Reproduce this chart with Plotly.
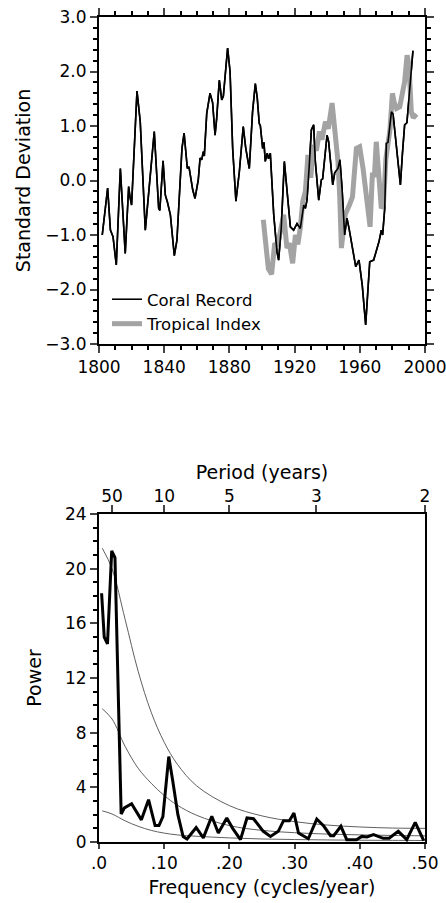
import plotly.graph_objects as go

# ---------------- data: top panel ----------------
coral_year = [1802, 1805.3, 1807, 1808.6, 1810.6, 1813.1, 1816.1, 1818.2, 1819, 1820, 1823.3, 1825.3,
              1828.4, 1830.5, 1833.9, 1836.6, 1837.3, 1839.3, 1840.7, 1842, 1843.8, 1846.2, 1847.8,
              1850.9, 1852.2, 1854.2, 1855.2, 1857.5, 1858.9, 1860.9, 1862, 1863, 1864, 1864.6, 1866.1,
              1868.1, 1869.7, 1871.2, 1872.2, 1873.8, 1875.3, 1876.3, 1878.9, 1880.4, 1882, 1884,
              1886.1, 1888.5, 1890, 1892.2, 1894.2, 1895.9, 1897.1, 1898.3, 1899, 1900.4, 1901.2,
              1902, 1903.2, 1904, 1905.1, 1907.2, 1909.2, 1910.2, 1911.8, 1913.7, 1915.3, 1917.4,
              1919.4, 1921.5, 1923.5, 1925.6, 1926.6, 1927.6, 1929, 1930.3, 1931.7, 1932.7, 1934.8,
              1936.4, 1937.2, 1939.9, 1940.9, 1943.4, 1944.6, 1946.6, 1947.8, 1949.1, 1950.7, 1952.1,
              1953.4, 1955.4, 1957.5, 1959.5, 1961.5, 1963.6, 1965, 1966.1, 1968.5, 1970.1, 1971.8,
              1973.2, 1974, 1975.3, 1976.3, 1977.3, 1979.4, 1980.4, 1982, 1984.9, 1986.1, 1987.5,
              1988.9, 1990.2, 1992.6]
coral_value = [-1.0, -0.14, -0.91, -1.03, -1.55, 0.22, -1.34, -0.11, -0.3, -0.45, 1.64, 1.08,
               -0.91, -0.27, 0.90, -0.51, -0.55, 0.36, -0.27, -0.4, -0.63, -1.38, -1.1,
               0.59, 0.87, 0.22, 0.25, -0.17, -0.33, 0.01, 0.41, 0.38, 0.53, 0.45, 1.23,
               1.60, 1.43, 0.83, 1.14, 1.84, 1.48, 1.55, 2.43, 2.0, 0.59, -0.38,
               0.16, 0.99, 0.6, 0.22, 1.26, 1.78, 1.51, 1.05, 1.0, 0.59, 0.7,
               0.35, 0.50, 0.40, 0.50, -0.63, -1.31, -1.46, -0.88, 0.35, -0.14, -0.85,
               -0.91, -0.79, -0.88, -0.45, -0.51, -0.36, 0.28, 0.93, 1.02, 0.35, -0.36,
               0.01, 0.03, 0.83, 0.71, -0.08, 0.14, 0.22, 0.38, -0.14, -1.0, -0.69,
               -0.88, -1.24, -1.58, -1.46, -1.92, -2.65, -2.10, -1.49, -1.46, -1.31, -1.12,
               -0.91, -1.0, -0.51, 0.68, 0.70, 1.26, 1.22, 0.71, -0.08, 0.47, 1.02,
               1.06, 1.51, 2.38]

trop_year = [1900.8, 1902.5, 1903.9, 1905.9, 1907.8, 1909.5, 1911.3, 1913.3, 1915.3, 1916.8, 1918.8,
             1920.5, 1922, 1923.5, 1925, 1926.6, 1928.2, 1929.9, 1931.7, 1933.4, 1935.2, 1936.8,
             1938.9, 1940.7, 1943, 1944.6, 1946.6, 1947.7, 1948.7, 1950, 1951.1, 1953.6, 1955.5,
             1957.9, 1959.9, 1962, 1964, 1965.5, 1966.3, 1967.7, 1969, 1970.1, 1971.5, 1973.2,
             1974.5, 1976, 1978.5, 1980, 1981, 1982.5, 1984.5, 1986, 1987.5, 1989, 1990.2, 1991.6,
             1992.8, 1994.8]
trop_value = [-0.72, -1.24, -1.62, -1.72, -1.15, -1.2, -0.95, -0.63, -1.24, -1.15, -1.52,
              -1.0, -1.17, -0.87, -0.39, -0.2, 0.47, 0.05, 0.65, 0.55, 0.9, 0.75,
              1.08, 0.95, 1.42, 1.0, 0.35, -0.3, -1.24, -0.9, -0.62, -0.45, -0.3,
              0.59, 0.62, 0.22, -0.3, -0.8, -0.85, 0.10, 0.1, 0.71, 0.0, -0.51,
              -0.45, 0.4, 0.93, 1.60, 1.45, 1.32, 1.35, 1.6, 1.81, 2.30, 2.1, 1.26,
              1.15, 1.22]

year_ticks = [1800, 1840, 1880, 1920, 1960, 2000]
sd_ticks = [-3, -2, -1, 0, 1, 2, 3]

# ---------------- data: bottom panel ----------------
freq = [0.004, 0.008, 0.013, 0.0195, 0.0245, 0.034, 0.039, 0.050, 0.065, 0.076, 0.086, 0.092,
        0.098, 0.107, 0.113, 0.121, 0.129, 0.135, 0.149, 0.160, 0.173, 0.183, 0.196, 0.205,
        0.217, 0.227, 0.237, 0.252, 0.263, 0.275, 0.283, 0.292, 0.299, 0.306, 0.321, 0.334,
        0.345, 0.355, 0.360, 0.371, 0.380, 0.395, 0.403, 0.411, 0.421, 0.436, 0.445, 0.459,
        0.472, 0.485, 0.498]
power = [18.2, 15.0, 14.5, 21.3, 20.8, 2.05, 2.5, 2.8, 1.62, 3.1, 1.2, 1.2,
         1.85, 6.25, 4.5, 2.0, 0.4, 0.22, 1.06, 0.3, 1.88, 0.66, 1.76, 1.0,
         0.17, 1.76, 1.7, 0.78, 0.41, 0.78, 1.56, 1.56, 2.12, 0.66, 0.24, 1.68,
         1.15, 0.46, 0.46, 1.15, 0.17, 0.17, 0.41, 0.37, 0.54, 0.27, 0.27, 0.78,
         0.17, 1.44, 0.1]

noise_freq = [0.005, 0.02, 0.04, 0.06, 0.08, 0.10, 0.12, 0.15, 0.20, 0.25, 0.30, 0.35, 0.40, 0.45, 0.50]
noise_upper = [21.5, 20.0, 16.3, 12.5, 9.5, 7.3, 5.7, 4.1, 2.66, 1.91, 1.49, 1.24, 1.10, 1.02, 1.0]
noise_mid = [9.75, 9.0, 7.0, 5.4, 4.3, 3.4, 2.7, 1.95, 1.2, 0.85, 0.68, 0.58, 0.52, 0.48, 0.45]
noise_lower = [2.28, 2.05, 1.55, 1.15, 0.85, 0.65, 0.52, 0.42, 0.30, 0.22, 0.18, 0.15, 0.13, 0.12, 0.11]

freq_ticks = [0.0, 0.1, 0.2, 0.3, 0.4, 0.5]
freq_labels = [".0", ".10", ".20", ".30", ".40", ".50"]
period_labels = ["50", "10", "5", "3", "2"]
period_values = [50, 10, 5, 3, 2]
power_ticks = [0, 4, 8, 12, 16, 20, 24]

FONT = "DejaVu Sans, Liberation Sans, Arial, sans-serif"
W, H = 446, 903
xl, xr = 99 / W, 425 / W

fig = go.Figure()

fig.add_trace(go.Scatter(x=coral_year, y=coral_value, mode="lines", name="Coral Record",
                         line=dict(color="black", width=1.6), xaxis="x", yaxis="y"))
fig.add_trace(go.Scatter(x=trop_year, y=trop_value, mode="lines", name="Tropical Index",
                         line=dict(color="#a3a3a3", width=5), xaxis="x", yaxis="y"))
fig.add_trace(go.Scatter(x=coral_year, y=coral_value, mode="lines", showlegend=False,
                         line=dict(color="black", width=1.6), xaxis="x", yaxis="y"))

for curve in (noise_upper, noise_mid, noise_lower):
    fig.add_trace(go.Scatter(x=noise_freq, y=curve, mode="lines", showlegend=False,
                             line=dict(color="#606060", width=1, shape="spline", smoothing=1.0),
                             xaxis="x2", yaxis="y2"))
fig.add_trace(go.Scatter(x=freq, y=power, mode="lines", showlegend=False,
                         line=dict(color="black", width=3), xaxis="x2", yaxis="y2"))
# invisible trace to activate the period axis
fig.add_trace(go.Scatter(x=[0, 0.5], y=[0, 0], mode="lines", showlegend=False,
                         line=dict(width=0), hoverinfo="skip", xaxis="x3", yaxis="y2"))

tickfont = dict(family=FONT, size=17, color="black")
titlefont = dict(family=FONT, size=19, color="black")

fig.update_layout(
    width=W, height=H,
    margin=dict(l=0, r=0, t=0, b=0),
    paper_bgcolor="white", plot_bgcolor="white",
    showlegend=True,
    legend=dict(x=107 / W, y=1 - 282 / H, xanchor="left", yanchor="top",
                font=dict(family=FONT, size=16.5, color="black"),
                bgcolor="rgba(0,0,0,0)", tracegroupgap=0, itemwidth=30),
    xaxis=dict(domain=[xl, xr], anchor="y", range=[1800, 2000], automargin=False,
               tickvals=year_ticks, ticks="outside", ticklen=7, tickwidth=2,
               showline=True, linewidth=2, linecolor="black", mirror="allticks",
               showgrid=False, zeroline=False, tickfont=tickfont, ticklabeloverflow="allow",
               minor=dict(dtick=10, ticks="outside", ticklen=4, tickwidth=1.5, tickcolor="black", showgrid=False)),
    yaxis=dict(domain=[1 - 344 / H, 1 - 17 / H], anchor="x", range=[-3, 3], automargin=False,
               tickvals=sd_ticks, tickformat=".1f", ticks="outside", ticklen=7, tickwidth=2,
               showline=True, linewidth=2, linecolor="black", mirror="allticks",
               showgrid=False, zeroline=False, tickfont=tickfont, ticklabeloverflow="allow",
               title=dict(text="Standard Deviation", font=titlefont, standoff=10),
               minor=dict(dtick=0.2, ticks="outside", ticklen=4, tickwidth=1.5, tickcolor="black", showgrid=False)),
    xaxis2=dict(domain=[xl, xr], anchor="y2", range=[0, 0.5], automargin=False,
                tickvals=freq_ticks, ticktext=freq_labels, ticks="outside", ticklen=5, tickwidth=2,
                showline=True, linewidth=2, linecolor="black", mirror=True,
                showgrid=False, zeroline=False, tickfont=tickfont, ticklabeloverflow="allow",
                title=dict(text="Frequency (cycles/year)", font=titlefont, standoff=8)),
    xaxis3=dict(overlaying="x2", anchor="y2", side="top", range=[0, 0.5], automargin=False,
                tickvals=[1 / p for p in period_values], ticktext=period_labels,
                ticks="outside", ticklen=7, tickwidth=2, ticklabelstandoff=-4,
                showline=True, linewidth=2, linecolor="black",
                showgrid=False, zeroline=False, tickfont=tickfont, ticklabeloverflow="allow",
                title=dict(text="Period (years)", font=titlefont, standoff=2)),
    yaxis2=dict(domain=[1 - 842 / H, 1 - 514 / H], anchor="x2", range=[0, 24], automargin=False,
                tickvals=power_ticks, ticks="outside", ticklen=7, tickwidth=2,
                showline=True, linewidth=2, linecolor="black", mirror=True,
                showgrid=False, zeroline=False, tickfont=tickfont, ticklabeloverflow="allow",
                title=dict(text="Power", font=titlefont, standoff=18),
                minor=dict(dtick=1, ticks="outside", ticklen=4, tickwidth=1.5, tickcolor="black", showgrid=False)),
)

fig.write_html("out.html")
